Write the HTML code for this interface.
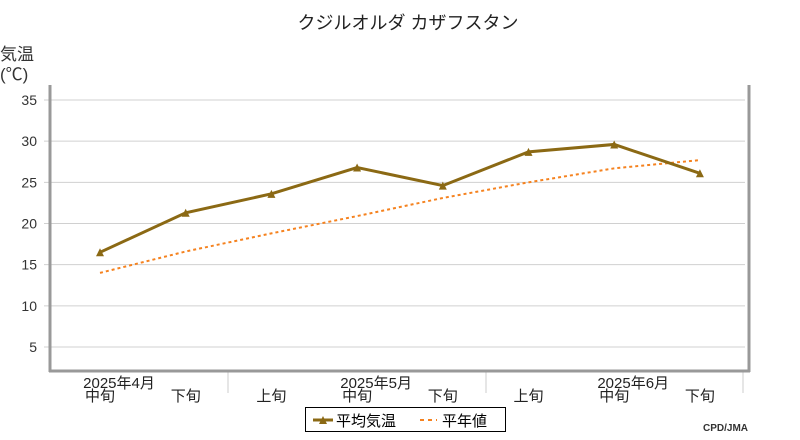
<!DOCTYPE html>
<html><head><meta charset="utf-8"><style>
body{margin:0;background:#fff;}
svg{display:block;font-family:"Liberation Sans","Noto Sans CJK JP",sans-serif;}
</style></head><body>
<svg id="chart" width="800" height="440" viewBox="0 0 800 440">
<text x="408" y="29" text-anchor="middle" font-size="18" fill="#222">クジルオルダ カザフスタン</text>
<text x="0" y="60" font-size="17" fill="#333">気温</text>
<text x="0" y="80" font-size="17" fill="#333">(℃)</text>
<g id="grid"></g>
<g id="yticks"></g>
<g id="xlabels"></g>
<line x1="50" y1="85" x2="50" y2="372" stroke="#999" stroke-width="3"/>
<line x1="749" y1="85" x2="749" y2="372" stroke="#999" stroke-width="3"/>
<line x1="49" y1="371" x2="750" y2="371" stroke="#999" stroke-width="3"/>
<g id="series"></g>
<g>
<rect x="305.5" y="407.5" width="200" height="24" fill="#fff" stroke="#000"/>
<line x1="313" y1="420" x2="333" y2="420" stroke="#8b6914" stroke-width="3"/>
<path d="M319,424 L323,416 L327,424 Z" fill="#8b6914"/>
<text x="336" y="426" font-size="15" fill="#000">平均気温</text>
<line x1="420" y1="420" x2="437" y2="420" stroke="#f5821f" stroke-width="2" stroke-dasharray="4,4"/>
<text x="442" y="426" font-size="15" fill="#000">平年値</text>
</g>
<text x="748" y="431" text-anchor="end" font-size="10" font-weight="bold" fill="#333">CPD/JMA</text>
</svg>
<script>
const categories=["中旬","下旬","上旬","中旬","下旬","上旬","中旬","下旬"];
const monthLabels=["2025年4月","2025年5月","2025年6月"];
const monthIndex=[0,3,6];
const avgTemp=[16.5,21.3,23.6,26.8,24.6,28.7,29.6,26.1];
const normalTemp=[14.0,16.6,18.8,20.9,23.1,25.0,26.7,27.7];
const yTicks=[5,10,15,20,25,30,35];
const NS="http://www.w3.org/2000/svg";
function xs(i){return 100+i*85.7;}
function ys(v){return 100+(35-v)*8.233;}
function mk(t,a,p){const e=document.createElementNS(NS,t);for(const k in a)e.setAttribute(k,a[k]);p.appendChild(e);return e;}
const grid=document.getElementById('grid'),yt=document.getElementById('yticks'),xl=document.getElementById('xlabels'),se=document.getElementById('series');
yTicks.forEach(v=>{
 const l=mk('line',{x1:44,x2:745,y1:ys(v),y2:ys(v),stroke:'#d0d0d0','stroke-width':1},grid);
 
 
 const t=mk('text',{x:37,y:ys(v)+5,'text-anchor':'end','font-size':14,fill:'#333'},yt);
 t.textContent=v;
 
 
});
[228,486,743].forEach(x=>{
 const l=mk('line',{x1:x,x2:x,y1:372,y2:393,stroke:'#ccc','stroke-width':1},xl);
 
 
});
categories.forEach((c,i)=>{
 const t=mk('text',{x:xs(i),y:401,'text-anchor':'middle','font-size':15,fill:'#222'},xl);
 t.textContent=c;
 
 
});
monthLabels.forEach((m,j)=>{
 const t=mk('text',{x:xs(monthIndex[j])+19,y:388,'text-anchor':'middle','font-size':15,fill:'#222'},xl);
 t.textContent=m;
 
 
});
const np=mk('polyline',{points:normalTemp.map((v,i)=>xs(i)+','+ys(v)).join(' '),fill:'none',stroke:'#f5821f','stroke-width':2,'stroke-dasharray':'3,3'},se);


const ap=mk('polyline',{points:avgTemp.map((v,i)=>xs(i)+','+ys(v)).join(' '),fill:'none',stroke:'#8b6914','stroke-width':3},se);


avgTemp.forEach((v,i)=>{
 const x=xs(i),y=ys(v);
 const p=mk('path',{d:`M${x-4},${y+4} L${x},${y-4} L${x+4},${y+4} Z`,fill:'#8b6914'},se);
 
 
});
</script>
</body></html>
